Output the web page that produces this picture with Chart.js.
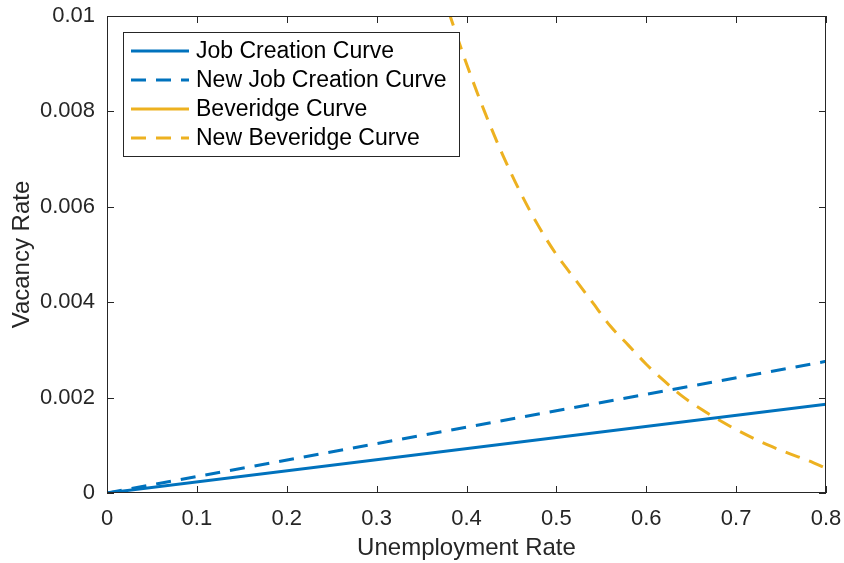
<!DOCTYPE html>
<html lang="en">
<head>
<meta charset="UTF-8" />
<title>Job Creation and Beveridge Curves</title>
<script src="https://cdn.jsdelivr.net/npm/chart.js"></script>
<style>
  html, body { margin: 0; padding: 0; background: #fff; }
  .wrap { width: 844px; height: 563px; position: relative; }
</style>
</head>
<body>
<div class="wrap"><canvas id="chart" width="844" height="563"></canvas></div>
<script>
  // straight job creation lines, from the origin to u = 0.8
  const jobX = [0, 0.8];
  const jobRate = [0, 0.00186];
  const newJobRate = [0, 0.00276];

  // the original Beveridge curve lies above the plotted range, only its legend entry shows
  const beveridgeX = [];
  const beveridgeRate = [];

  const newBeveridgeX = [0.38, 0.40, 0.42, 0.44, 0.46, 0.48, 0.50, 0.52, 0.54, 0.56, 0.58,
                         0.60, 0.62, 0.64, 0.66, 0.68, 0.70, 0.72, 0.74, 0.76, 0.78, 0.80];
  const newBeveridgeRate = [0.0101, 0.0090, 0.0080, 0.0071, 0.0063, 0.0056, 0.0050, 0.0045, 0.0040, 0.0035, 0.0031,
                            0.0027, 0.00235, 0.00203, 0.00177, 0.00154, 0.00133, 0.00114, 0.00097, 0.00082, 0.00068, 0.00052];

  const xTicks = [0, 0.1, 0.2, 0.3, 0.4, 0.5, 0.6, 0.7, 0.8];
  const xTickLabels = ['0', '0.1', '0.2', '0.3', '0.4', '0.5', '0.6', '0.7', '0.8'];
  const yTicks = [0, 0.002, 0.004, 0.006, 0.008, 0.01];
  const yTickLabels = ['0', '0.002', '0.004', '0.006', '0.008', '0.01'];

  const BLUE = '#0072BD';
  const GOLD = '#EDB120';
  const INK = '#262626';
  const FONT = "'Liberation Sans', Arial, Helvetica, sans-serif";

  const pts = (xs, ys) => xs.map((x, i) => ({ x: x, y: ys[i] }));

  // box, inward ticks on all four sides, and the legend drawn inside the plot
  const matlabFrame = {
    id: 'matlabFrame',
    afterDatasetsDraw(chart) {
      const { ctx, chartArea: a, scales: { x, y } } = chart;
      const len = 7;
      ctx.save();
      ctx.strokeStyle = INK;
      ctx.lineWidth = 1;
      ctx.strokeRect(a.left + 0.5, a.top + 0.5, a.width - 1, a.height - 1);
      ctx.beginPath();
      xTicks.forEach(v => {
        const px = Math.round(x.getPixelForValue(v)) + 0.5;
        ctx.moveTo(px, a.bottom); ctx.lineTo(px, a.bottom - len);
        ctx.moveTo(px, a.top); ctx.lineTo(px, a.top + len);
      });
      yTicks.forEach(v => {
        const py = Math.round(y.getPixelForValue(v)) + 0.5;
        ctx.moveTo(a.left, py); ctx.lineTo(a.left + len, py);
        ctx.moveTo(a.right, py); ctx.lineTo(a.right - len, py);
      });
      ctx.stroke();

      // legend
      const bx = a.left + 16, by = a.top + 16, bw = 336, bh = 124;
      ctx.fillStyle = '#fff';
      ctx.fillRect(bx, by, bw, bh);
      ctx.strokeStyle = INK;
      ctx.lineWidth = 1;
      ctx.strokeRect(bx + 0.5, by + 0.5, bw, bh);
      ctx.font = '23px ' + FONT;
      ctx.textBaseline = 'middle';
      chart.data.datasets.forEach((ds, i) => {
        const cy = by + 19 + i * 29;
        ctx.beginPath();
        ctx.strokeStyle = ds.borderColor;
        ctx.lineWidth = ds.borderWidth;
        ctx.setLineDash(ds.borderDash || []);
        ctx.moveTo(bx + 8, cy);
        ctx.lineTo(bx + 66, cy);
        ctx.stroke();
        ctx.setLineDash([]);
        ctx.fillStyle = '#000';
        ctx.fillText(ds.label, bx + 73, cy + 1);
      });
      ctx.restore();
    }
  };

  new Chart(document.getElementById('chart'), {
    type: 'line',
    data: {
      datasets: [
        { label: 'Job Creation Curve', data: pts(jobX, jobRate), borderColor: BLUE, borderWidth: 3 },
        { label: 'New Job Creation Curve', data: pts(jobX, newJobRate), borderColor: BLUE, borderWidth: 3, borderDash: [15, 10] },
        { label: 'Beveridge Curve', data: pts(beveridgeX, beveridgeRate), borderColor: GOLD, borderWidth: 3 },
        { label: 'New Beveridge Curve', data: pts(newBeveridgeX, newBeveridgeRate), borderColor: GOLD, borderWidth: 3, borderDash: [15, 10], cubicInterpolationMode: 'monotone' }
      ]
    },
    options: {
      responsive: false,
      animation: false,
      elements: { point: { radius: 0 }, line: { tension: 0, borderCapStyle: 'butt' } },
      layout: { padding: { top: 16, right: 18, left: 0, bottom: 0 } },
      plugins: { legend: { display: false }, tooltip: { enabled: false } },
      scales: {
        x: {
          type: 'linear',
          min: 0, max: 0.8,
          afterFit: s => { s.height = 70; s.paddingLeft = 0; s.paddingRight = 0; },
          afterBuildTicks: s => { s.ticks = xTicks.map(v => ({ value: v })); },
          grid: { display: false, drawTicks: false },
          border: { display: false },
          ticks: {
            padding: 13,
            color: INK,
            font: { family: FONT, size: 22 },
            maxRotation: 0,
            callback: (v, i) => xTickLabels[i]
          },
          title: { display: true, text: 'Unemployment Rate', color: INK, font: { family: FONT, size: 24 }, padding: { top: 2, bottom: 0 } }
        },
        y: {
          type: 'linear',
          min: 0, max: 0.01,
          afterFit: s => { s.width = 107; s.paddingTop = 0; s.paddingBottom = 0; },
          afterBuildTicks: s => { s.ticks = yTicks.map(v => ({ value: v })); },
          grid: { display: false, drawTicks: false },
          border: { display: false },
          ticks: {
            padding: 12,
            color: INK,
            font: { family: FONT, size: 22 },
            callback: (v, i) => yTickLabels[i]
          },
          title: { display: true, text: 'Vacancy Rate', color: INK, font: { family: FONT, size: 24 }, padding: { top: 8, bottom: 4 } }
        }
      }
    },
    plugins: [matlabFrame]
  });
</script>
</body>
</html>
